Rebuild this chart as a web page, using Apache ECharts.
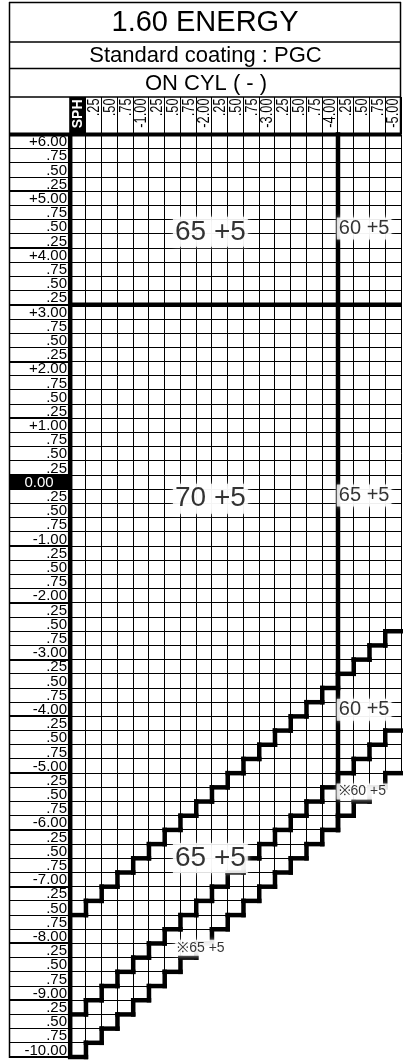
<!DOCTYPE html>
<html><head><meta charset="utf-8">
<script src="https://cdn.jsdelivr.net/npm/echarts@6/dist/echarts.min.js"></script>
<style>html,body{margin:0;padding:0;background:#fff}#c{width:403px;height:1064px}</style>
</head><body><div id="c"></div>
<script>
// ---------- data ----------
const titleText = '1.60 ENERGY';
const subtitleText = 'Standard coating : PGC';
const modeText = 'ON CYL ( - )';
const sphHeader = 'SPH';

const cylValues = [0, -0.25, -0.50, -0.75, -1.00, -1.25, -1.50, -1.75, -2.00, -2.25, -2.50,
  -2.75, -3.00, -3.25, -3.50, -3.75, -4.00, -4.25, -4.50, -4.75, -5.00];
const cylLabels = ['', '.25', '.50', '.75', '-1.00', '.25', '.50', '.75', '-2.00', '.25', '.50',
  '.75', '-3.00', '.25', '.50', '.75', '-4.00', '.25', '.50', '.75', '-5.00'];

const sphValues = [6.00, 5.75, 5.50, 5.25, 5.00, 4.75, 4.50, 4.25, 4.00, 3.75, 3.50, 3.25,
  3.00, 2.75, 2.50, 2.25, 2.00, 1.75, 1.50, 1.25, 1.00, 0.75, 0.50, 0.25, 0.00,
  -0.25, -0.50, -0.75, -1.00, -1.25, -1.50, -1.75, -2.00, -2.25, -2.50, -2.75, -3.00,
  -3.25, -3.50, -3.75, -4.00, -4.25, -4.50, -4.75, -5.00, -5.25, -5.50, -5.75, -6.00,
  -6.25, -6.50, -6.75, -7.00, -7.25, -7.50, -7.75, -8.00, -8.25, -8.50, -8.75, -9.00,
  -9.25, -9.50, -9.75, -10.00];
const sphLabels = ['+6.00', '.75', '.50', '.25', '+5.00', '.75', '.50', '.25', '+4.00', '.75', '.50', '.25',
  '+3.00', '.75', '.50', '.25', '+2.00', '.75', '.50', '.25', '+1.00', '.75', '.50', '.25', '0.00',
  '.25', '.50', '.75', '-1.00', '.25', '.50', '.75', '-2.00', '.25', '.50', '.75', '-3.00',
  '.25', '.50', '.75', '-4.00', '.25', '.50', '.75', '-5.00', '.25', '.50', '.75', '-6.00',
  '.25', '.50', '.75', '-7.00', '.25', '.50', '.75', '-8.00', '.25', '.50', '.75', '-9.00',
  '.25', '.50', '.75', '-10.00'];

// lowest available SPH in each CYL column (outer limit)
const lowestSph = [-10.00, -9.75, -9.50, -9.25, -9.00, -8.75, -8.50, -8.25, -8.00, -7.75, -7.50,
  -7.25, -7.00, -6.75, -6.50, -6.25, -6.00, -5.75, -5.50, -5.25, -5.00];
// last SPH above the first step line
const stepA = [-7.50, -7.25, -7.00, -6.75, -6.50, -6.25, -6.00, -5.75, -5.50, -5.25, -5.00,
  -4.75, -4.50, -4.25, -4.00, -3.75, -3.50, -3.25, -3.00, -2.75, -2.50];
// last SPH above the second step line
const stepB = [-9.25, -9.00, -8.75, -8.50, -8.25, -8.00, -7.75, -7.50, -7.25, -7.00, -6.75,
  -6.50, -6.25, -6.00, -5.75, -5.50, -5.25, -5.00, -4.75, -4.50, -4.25];
// straight dividers (between these two values)
const sphSplit = [3.25, 3.00];
const cylSplit = [-4.00, -4.25];

// zone labels
const zoneText = ['65 +5', '60 +5', '70 +5', '65 +5', '60 +5', '※60 +5', '65 +5', '※65 +5'];
const zoneCyl = [-2.10, -4.54, -2.10, -4.54, -4.54, -4.51, -2.10, -1.95];
const zoneSph = [4.41, 4.47, -0.29, -0.235, -4.01, -5.45, -6.62, -8.20];
const zoneSize = ['big', 'mid', 'big', 'mid', 'mid', 'small', 'big', 'small'];

// ---------- drawing ----------
const FONT = '"Liberation Sans", Arial, sans-serif';
const crisp = v => Math.round(v - 0.5) + 0.5;
const H = 0.125;
const TOP = sphValues[0] + H;

function ln(x1, y1, x2, y2, w) {
  return {type: 'line', shape: {x1, y1, x2, y2}, style: {stroke: '#000', lineWidth: w || 1, lineCap: 'butt'}};
}
function thick(x1, y1, x2, y2) {
  return {type: 'line', shape: {x1, y1, x2, y2}, style: {stroke: '#000', lineWidth: 4.5, lineCap: 'square'}};
}

function renderCells(params, api) {
  const cyl = api.value(0), low = api.value(1);
  const xl = crisp(api.coord([cyl + H, 0])[0]);
  const xr = crisp(api.coord([cyl - H, 0])[0]);
  const yt = api.coord([0, TOP])[1];
  const yb = api.coord([0, low - H])[1];
  const ch = [ln(xl, yt, xl, yb), ln(xr, yt, xr, yb)];
  sphValues.forEach(s => {
    if (s >= low - 1e-9) {
      const y = crisp(api.coord([0, s - H])[1]);
      ch.push(ln(xl, y, xr, y));
    }
  });
  return {type: 'group', children: ch};
}

function stepRenderer(arr) {
  return function (params, api) {
    const i = api.value(2);
    const cyl = api.value(0), s = api.value(1);
    const xl = api.coord([cyl + H, 0])[0];
    const xr = api.coord([cyl - H, 0])[0];
    const y = api.coord([0, s - H])[1];
    const ch = [thick(xl, y, xr, y)];
    if (i < arr.length - 1) {
      const y2 = api.coord([0, arr[i + 1] - H])[1];
      ch.push(thick(xr, y, xr, y2));
    }
    return {type: 'group', children: ch};
  };
}

function renderDividers(params, api) {
  const xL = api.coord([cylValues[0] + H, 0])[0];
  const xR = api.coord([cylValues[cylValues.length - 1] - H, 0])[0];
  const yT = api.coord([0, TOP])[1];
  const yB = api.coord([0, lowestSph[0] - H])[1];
  const cDiv = (cylSplit[0] + cylSplit[1]) / 2;
  const sDiv = (sphSplit[0] + sphSplit[1]) / 2;
  const ci = cylValues.indexOf(cylSplit[0]);
  const xD = api.coord([cDiv, 0])[0];
  const yDend = api.coord([0, lowestSph[ci] - H])[1];
  const yS = api.coord([0, sDiv])[1];
  return {type: 'group', children: [
    thick(xD, yT, xD, yDend),
    {type: 'line', shape: {x1: xL - 2, y1: yS, x2: xR, y2: yS}, style: {stroke: '#000', lineWidth: 4.5}},
    {type: 'line', shape: {x1: xL, y1: yT, x2: xL, y2: yB + 2}, style: {stroke: '#000', lineWidth: 4.5}},
    {type: 'line', shape: {x1: 9, y1: yT, x2: xR, y2: yT}, style: {stroke: '#000', lineWidth: 4}}
  ]};
}

function renderRows(params, api) {
  const i = api.value(2), s = api.value(1);
  const yT = api.coord([0, s + H])[1];
  const yB = api.coord([0, s - H])[1];
  const yM = (yT + yB) / 2;
  const xEdge = api.coord([cylValues[0] + H, 0])[0];
  const ch = [];
  if (Math.abs(s) < 1e-9) {
    ch.push({type: 'rect', shape: {x: 10, y: yT, width: xEdge - 10, height: yB - yT}, style: {fill: '#000'}});
    ch.push({type: 'text', x: (10 + xEdge - 2) / 2, y: yM + 0.5,
      style: {text: sphLabels[i], fill: '#fff', font: '15px ' + FONT, textAlign: 'center', textVerticalAlign: 'middle'}});
  } else {
    ch.push({type: 'text', x: 67, y: yM + 0.5,
      style: {text: sphLabels[i], fill: '#000', font: '15px ' + FONT, textAlign: 'right', textVerticalAlign: 'middle'}});
  }
  // underline at bottom of row: heavier where a whole-dioptre group ends
  const b = s - H;
  const grp = Math.abs(Math.abs(b) - H - Math.round(Math.abs(b) - H)) < 1e-9;
  if (grp) ch.push(ln(10, Math.round(yB), xEdge, Math.round(yB), 2));
  else ch.push(ln(10, crisp(yB), xEdge, crisp(yB), 1));
  return {type: 'group', children: ch};
}

function renderHeads(params, api) {
  const i = api.value(2), cyl = api.value(0);
  const xl = api.coord([cyl + H, 0])[0];
  const xr = api.coord([cyl - H, 0])[0];
  const xc = (xl + xr) / 2;
  const yT = api.coord([0, TOP])[1];
  const yH = yT - 37.5;
  const ch = [];
  if (i === 0) {
    ch.push({type: 'rect', shape: {x: xl - 1, y: yH, width: xr - xl + 1, height: yT - yH}, style: {fill: '#000'}});
    ch.push({type: 'text', x: xc + 0.5, y: yH + 2.5, rotation: Math.PI / 2,
      style: {text: sphHeader, fill: '#fff', font: 'bold 14px ' + FONT, textAlign: 'right', textVerticalAlign: 'middle'}});
  } else {
    ch.push({type: 'text', x: xc + 0.8, y: yH + 1.5, rotation: Math.PI / 2, scaleX: 0.8,
      style: {text: cylLabels[i], fill: '#000', font: '16px ' + FONT, textAlign: 'right', textVerticalAlign: 'middle'}});
  }
  ch.push(ln(crisp(xr), yH, crisp(xr), yT, 1));
  return {type: 'group', children: ch};
}

const sizeMap = {big: 28, mid: 20, small: 14};

const chart = echarts.init(document.getElementById('c'), null, {renderer: 'canvas', width: 403, height: 1064});
chart.setOption({
  animation: false,
  backgroundColor: '#fff',
  grid: {left: 70.2, top: 134.5, width: 330.8, height: 922.5, containLabel: false},
  xAxis: {type: 'value', min: -5.125, max: 0.125, inverse: true, show: false},
  yAxis: {type: 'value', min: -10.125, max: 6.125, show: false},
  graphic: [
    {type: 'line', shape: {x1: 9, y1: 2.5, x2: 401, y2: 2.5}, style: {stroke: '#000', lineWidth: 1.5}},
    {type: 'line', shape: {x1: 9, y1: 42, x2: 401, y2: 42}, style: {stroke: '#000', lineWidth: 1.5}},
    {type: 'line', shape: {x1: 9, y1: 68.5, x2: 401, y2: 68.5}, style: {stroke: '#000', lineWidth: 1.5}},
    {type: 'line', shape: {x1: 9, y1: 97, x2: 401, y2: 97}, style: {stroke: '#000', lineWidth: 1.5}},
    {type: 'line', shape: {x1: 9.5, y1: 2, x2: 9.5, y2: 1058}, style: {stroke: '#000', lineWidth: 1.5}},
    {type: 'line', shape: {x1: 400.5, y1: 2, x2: 400.5, y2: 134}, style: {stroke: '#000', lineWidth: 1.5}},
    {type: 'text', x: 205, y: 23, style: {text: titleText, font: '29px ' + FONT, fill: '#000', textAlign: 'center', textVerticalAlign: 'middle'}},
    {type: 'text', x: 205.5, y: 56, style: {text: subtitleText, font: '22px ' + FONT, fill: '#000', textAlign: 'center', textVerticalAlign: 'middle'}},
    {type: 'text', x: 206, y: 83.5, style: {text: modeText, font: '22px ' + FONT, fill: '#000', textAlign: 'center', textVerticalAlign: 'middle'}}
  ],
  series: [
    {type: 'custom', name: 'cells', z: 1, renderItem: renderCells,
      data: cylValues.map((c, i) => [c, lowestSph[i], i])},
    {type: 'custom', name: 'rows', z: 2, renderItem: renderRows,
      data: sphValues.map((s, i) => [cylValues[0], s, i])},
    {type: 'custom', name: 'heads', z: 2, renderItem: renderHeads,
      data: cylValues.map((c, i) => [c, TOP, i])},
    {type: 'custom', name: 'dividers', z: 3, renderItem: renderDividers, data: [[0, 0]]},
    {type: 'custom', name: 'stepA', z: 3, renderItem: stepRenderer(stepA),
      data: cylValues.map((c, i) => [c, stepA[i], i])},
    {type: 'custom', name: 'stepB', z: 3, renderItem: stepRenderer(stepB),
      data: cylValues.map((c, i) => [c, stepB[i], i])},
    {type: 'custom', name: 'limit', z: 3, renderItem: stepRenderer(lowestSph),
      data: cylValues.map((c, i) => [c, lowestSph[i], i])},
    {type: 'scatter', name: 'zones', z: 5, symbolSize: 0, silent: true,
      data: zoneText.map((t, i) => ({value: [zoneCyl[i], zoneSph[i]], name: t,
        label: {fontSize: sizeMap[zoneSize[i]]}})),
      label: {show: true, position: 'inside', formatter: p => p.name, color: '#000',
        fontFamily: FONT, backgroundColor: '#fff', padding: [2, 2, 0, 2],
        shadowBlur: 5, shadowColor: '#fff'}}
  ]
});
</script>
</body></html>
